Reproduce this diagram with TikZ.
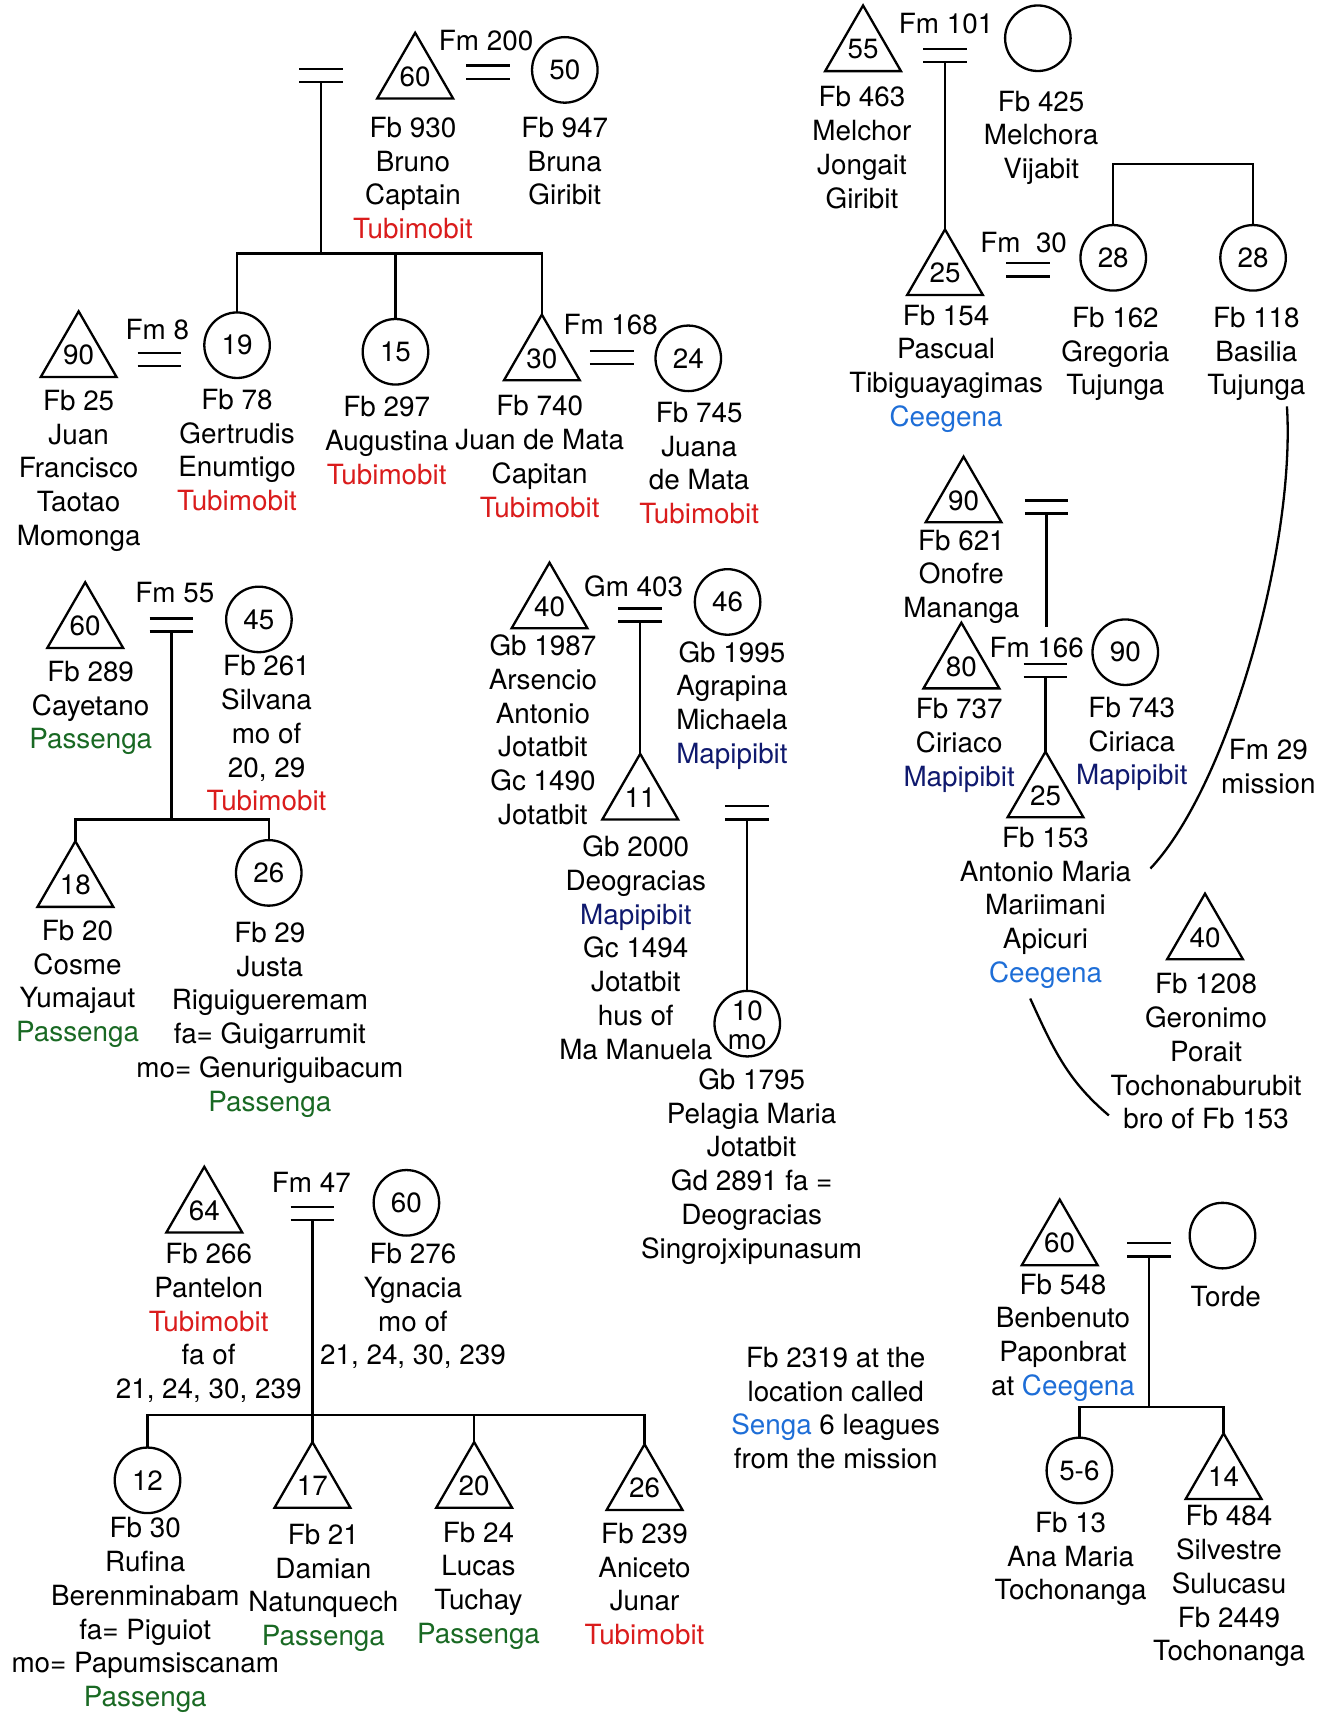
\documentclass[tikz,border=0pt]{standalone}
\usepackage{xcolor}
\usepackage{fontspec}
\setmainfont{TeX Gyre Heros}
\usepackage{tikz}
\usetikzlibrary{shapes.geometric}

\definecolor{tubi}{RGB}{218,28,28}
\definecolor{pass}{RGB}{25,105,35}
\definecolor{cee}{RGB}{30,110,215}
\definecolor{mapi}{RGB}{15,25,110}
\newcommand{\lblfont}{\fontsize{14.5}{17.6}\selectfont}
\newcommand{\numfont}{\fontsize{14.5}{15}\selectfont}

\begin{document}
\begin{tikzpicture}[x=0.02cm, y=-0.02cm, line width=1.2pt,
  male/.style={regular polygon, regular polygon sides=3, draw, minimum size=1.57cm, inner sep=0pt, outer sep=0pt, anchor=corner 1, font=\numfont},
  fem/.style={circle, draw, minimum size=1.2cm, inner sep=0pt, outer sep=0pt, font=\numfont},
  eq/.style={minimum width=0.8cm, minimum height=0.24cm, inner sep=0pt, outer sep=0pt},
  lbl/.style={align=center, anchor=north, yshift=0.18cm, inner sep=0pt, font=\lblfont},
  fm/.style={inner sep=0pt, font=\lblfont}]
\useasboundingbox (0,0) rectangle (1213,1568);

% Bruno and Bruna, their children
\node[eq] (m1) at (294,69) {};
\node[male] (p930) at (380,30) {60};
\node[fm] (fm200) at (445,37) {Fm 200};
\node[eq] (e200) at (447,66) {};
\node[fem] (p947) at (517,64) {50};
\node[lbl] (t930) at (378,115) {Fb 930\\Bruno\\Captain\\\textcolor{tubi}{Tubimobit}};
\node[lbl] (t947) at (517,115) {Fb 947\\Bruna\\Giribit};

\node[male] (p25) at (72,285) {90};
\node[fm] (fm8) at (144,302) {Fm 8};
\node[eq] (e8) at (146,329) {};
\node[fem] (p78) at (217,316) {19};
\node[fem] (p297) at (362,322) {15};
\node[male] (p740) at (496,288) {30};
\node[fm] (fm168) at (559,297) {Fm 168};
\node[eq] (e168) at (560,327) {};
\node[fem] (p745) at (630,328) {24};
\node[lbl] (t25) at (72,365) {Fb 25\\Juan\\Francisco\\Taotao\\Momonga};
\node[lbl] (t78) at (217,364) {Fb 78\\Gertrudis\\Enumtigo\\\textcolor{tubi}{Tubimobit}};
\node[lbl] (t297) at (354,371) {Fb 297\\Augustina\\\textcolor{tubi}{Tubimobit}};
\node[lbl] (t740) at (494,370) {Fb 740\\Juan de Mata\\Capitan\\\textcolor{tubi}{Tubimobit}};
\node[lbl] (t745) at (640,376) {Fb 745\\Juana\\de Mata\\\textcolor{tubi}{Tubimobit}};

\coordinate (s1) at (294,232);
\draw (m1.south) -- (s1);
\draw (p78.north) |- (s1) -| (p740.corner 1);
\draw (s1 -| p297) -- (p297.north);

% Melchor and Melchora
\node[male] (p463) at (790,5) {55};
\node[fm] (fm101) at (866,22) {Fm 101};
\node[eq] (e101) at (865,51) {};
\node[fem] (p425) at (950,35) {};
\node[lbl] (t463) at (789,87) {Fb 463\\Melchor\\Jongait\\Giribit};
\node[lbl] (t425) at (953,91) {Fb 425\\Melchora\\Vijabit};

\node[male] (p154) at (865,210) {25};
\node[fm] (fm30) at (937,222) {Fm\ \ 30};
\node[eq] (e30) at (941,247) {};
\node[fem] (p162) at (1019,236) {28};
\node[fem] (p118) at (1147,236) {28};
\node[lbl] (t154) at (866,287) {Fb 154\\Pascual\\Tibiguayagimas\\\textcolor{cee}{Ceegena}};
\node[lbl] (t162) at (1021,289) {Fb 162\\Gregoria\\Tujunga};
\node[lbl] (t118) at (1150,289) {Fb 118\\Basilia\\Tujunga};

\draw (e101.south) -- (p154.corner 1);
\coordinate (s2) at (1083,150);
\draw (p162.north) |- (s2) -| (p118.north);

% Onofre, Ciriaco and Ciriaca
\node[male] (p621) at (882,418) {90};
\node[eq] (e621) at (958,464) {};
\node[lbl] (t621) at (880,493) {Fb 621\\Onofre\\Mananga};
\node[male] (p737) at (880,570) {80};
\node[fm] (fm166) at (949,593) {Fm 166};
\node[eq] (e166) at (957,614) {};
\node[fem] (p743) at (1030,597) {90};
\node[lbl] (t737) at (878,647) {Fb 737\\Ciriaco\\\textcolor{mapi}{Mapipibit}};
\node[lbl] (t743) at (1036,646) {Fb 743\\Ciriaca\\\textcolor{mapi}{Mapipibit}};
\node[male] (p153) at (957,688) {25};
\node[lbl] (t153) at (957,765) {Fb 153\\Antonio Maria\\Mariimani\\Apicuri\\\textcolor{cee}{Ceegena}};
\node[lbl] (fm29) at (1161,685) {Fm 29\\mission};
\node[male] (p1208) at (1103,818) {40};
\node[lbl] (t1208) at (1104,899) {Fb 1208\\Geronimo\\Porait\\Tochonaburubit\\bro of Fb 153};

\coordinate (d621) at (958,574);
\draw (e621.south) -- (d621);
\draw (e166.south) -- (p153.corner 1);
\coordinate (c1) at (1178,372);
\coordinate (c2) at (1053,795);
\draw (c1) .. controls (1186,500) and (1124,720) .. (c2);
\coordinate (c3) at (943,914);
\coordinate (c4) at (1015,1021);
\draw (c3) .. controls (964,960) and (977,989) .. (c4);

% Cayetano and Silvana
\node[male] (p289) at (78,533) {60};
\node[fm] (fm55) at (160,542) {Fm 55};
\node[eq] (e55) at (157,572) {};
\node[fem] (p261) at (237,567) {45};
\node[lbl] (t289) at (83,613) {Fb 289\\Cayetano\\\textcolor{pass}{Passenga}};
\node[lbl] (t261) at (244,608) {Fb 261\\Silvana\\mo of\\20, 29\\\textcolor{tubi}{Tubimobit}};
\node[male] (p20) at (69,770) {18};
\node[fem] (p29) at (246,799) {26};
\node[lbl] (t20) at (71,850) {Fb 20\\Cosme\\Yumajaut\\\textcolor{pass}{Passenga}};
\node[lbl] (t29) at (247,852) {Fb 29\\Justa\\Riguigueremam\\fa= Guigarrumit\\mo= Genuriguibacum\\\textcolor{pass}{Passenga}};

\coordinate (s3) at (157,750);
\draw (e55.south) -- (s3);
\draw (p20.corner 1) |- (s3) -| (p29.north);

% Arsencio and Agrapina
\node[male] (p1987) at (503,515) {40};
\node[fm] (gm403) at (580,537) {Gm 403};
\node[eq] (e403) at (586,563) {};
\node[fem] (p1995) at (666,551) {46};
\node[lbl] (t1987) at (497,589) {Gb 1987\\Arsencio\\Antonio\\Jotatbit\\Gc 1490\\Jotatbit};
\node[lbl] (t1995) at (670,595) {Gb 1995\\Agrapina\\Michaela\\\textcolor{mapi}{Mapipibit}};
\node[male] (p2000) at (586,690) {11};
\node[lbl] (t2000) at (582,773) {Gb 2000\\Deogracias\\\textcolor{mapi}{Mapipibit}\\Gc 1494\\Jotatbit\\hus of\\Ma Manuela};
\node[eq] (e2000) at (684,744) {};
\node[fem, label={[font=\numfont,yshift=0.24cm]center:10}, label={[font=\numfont,yshift=-0.34cm]center:mo}] (p1795) at (684,937) {};
\node[lbl] (t1795) at (688,986) {Gb 1795\\Pelagia Maria\\Jotatbit\\Gd 2891 fa =\\Deogracias\\Singrojxipunasum};

\draw (e403.south) -- (p2000.corner 1);
\draw (e2000.south) -- (p1795.north);

% Pantelon and Ygnacia
\node[male] (p266) at (187,1068) {64};
\node[fm] (fm47) at (285,1082) {Fm 47};
\node[eq] (e47) at (286,1111) {};
\node[fem] (p276) at (372,1101) {60};
\node[lbl] (t266) at (191,1146) {Fb 266\\Pantelon\\\textcolor{tubi}{Tubimobit}\\fa of\\21, 24, 30, 239};
\node[lbl] (t276) at (378,1146) {Fb 276\\Ygnacia\\mo of\\21, 24, 30, 239};
\node[fem] (p30) at (135,1355) {12};
\node[male] (p21) at (286,1320) {17};
\node[male] (p24) at (434,1320) {20};
\node[male] (p239) at (590,1322) {26};
\node[lbl] (t30) at (133,1397) {Fb 30\\Rufina\\Berenminabam\\fa= Piguiot\\mo= Papumsiscanam\\\textcolor{pass}{Passenga}};
\node[lbl] (t21) at (296,1403) {Fb 21\\Damian\\Natunquech\\\textcolor{pass}{Passenga}};
\node[lbl] (t24) at (438,1401) {Fb 24\\Lucas\\Tuchay\\\textcolor{pass}{Passenga}};
\node[lbl] (t239) at (590,1402) {Fb 239\\Aniceto\\Junar\\\textcolor{tubi}{Tubimobit}};
\node[lbl] (t2319) at (765,1241) {Fb 2319 at the\\location called\\\textcolor{cee}{Senga} 6 leagues\\from the mission};

\coordinate (s4) at (286,1295);
\draw (e47.south) -- (p21.corner 1);
\draw (p30.north) |- (s4) -| (p239.corner 1);
\draw (s4 -| p24) -- (p24.corner 1);

% Benbenuto and Torde
\node[male] (p548) at (970,1098) {60};
\node[eq] (e548) at (1052,1144) {};
\node[fem] (ptorde) at (1119,1131) {};
\node[lbl] (t548) at (973,1174) {Fb 548\\Benbenuto\\Paponbrat\\at \textcolor{cee}{Ceegena}};
\node[fm] (torde) at (1122,1187) {Torde};
\node[fem] (p13) at (988,1346) {5-6};
\node[male] (p484) at (1120,1312) {14};
\node[lbl] (t13) at (980,1392) {Fb 13\\Ana Maria\\Tochonanga};
\node[lbl] (t484) at (1125,1386) {Fb 484\\Silvestre\\Sulucasu\\Fb 2449\\Tochonanga};

\coordinate (s5) at (1052,1288);
\draw (e548.south) -- (s5);
\draw (p13.north) |- (s5) -| (p484.corner 1);

% marriage signs
\foreach \m in {m1,e200,e8,e168,e101,e30,e621,e166,e55,e403,e2000,e47,e548}
  \draw (\m.north west) -- (\m.north east) (\m.south west) -- (\m.south east);
\end{tikzpicture}
\end{document}
